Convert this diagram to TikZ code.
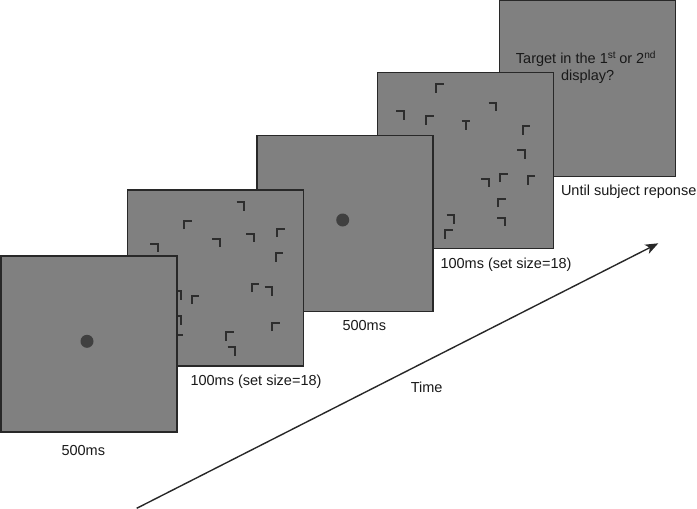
\documentclass[tikz,border=0pt]{standalone}
\usepackage{fontspec}
\setmainfont{Liberation Sans}
\usetikzlibrary{arrows.meta}
\definecolor{panelgray}{RGB}{128,128,128}
\definecolor{edgegray}{RGB}{40,40,40}
\definecolor{glyphgray}{RGB}{45,45,45}
\definecolor{dotgray}{RGB}{64,64,64}
\definecolor{txt}{RGB}{25,25,25}
\tikzset{
  panel/.style={draw=edgegray, fill=panelgray, line width=1.7pt, inner sep=0pt,
    minimum width=176pt, minimum height=176pt},
  glyph/.style={draw=glyphgray, line width=2pt, line cap=butt, line join=miter},
  fixdot/.style={circle, fill=dotgray, inner sep=0pt, minimum size=13pt},
  lbl/.style={text=txt, font=\fontsize{14.5}{17}\selectfont, inner sep=0pt, anchor=base},
  gL/.pic={\draw[glyph] (0,8.5) -- (0,0) -- (7.5,0);},
  gR/.pic={\draw[glyph] (0,0) -- (7.5,0) -- (7.5,8.5);},
  gT/.pic={\draw[glyph] (0,0) -- (8.5,0); \draw[glyph] (4.25,0) -- (4.25,8.5);}
}
\begin{document}
\begin{tikzpicture}[x=1pt,y=-1pt]
\useasboundingbox (0,0) rectangle (697,509);

% panel 5: response
\node[panel] (p5) at (587.5,88.5) {};
\node[lbl] (q1) at (586,63.8) {Target in the 1\textsuperscript{st}\kern-1pt{} or 2\textsuperscript{nd}};
\node[lbl] (q2) at (587.7,80.4) {display?};

% panel 4: second search display
\node[panel] (p4) at (465.5,160.5) {};
\pic at (436.3,84.3) {gL};
\pic at (488.7,102.7) {gR};
\pic at (396,111) {gR};
\pic at (426.3,116) {gL};
\pic at (461.7,121) {gT};
\pic at (522.7,126) {gL};
\pic at (517.3,150.3) {gR};
\pic at (481.3,178.7) {gR};
\pic at (500.3,173.7) {gL};
\pic at (527.7,176) {gL};
\pic at (498.3,198.7) {gL};
\pic at (446.7,215) {gR};
\pic at (497.3,217.7) {gR};
\pic at (445.3,230) {gL};

% panel 3: fixation
\node[panel] (p3) at (345,223.5) {};
\node[fixdot] (d3) at (342.7,220) {};

% panel 2: first search display
\node[panel] (p2) at (215.5,278) {};
\pic at (236.7,202) {gR};
\pic at (184.3,220.7) {gL};
\pic at (212,238.7) {gR};
\pic at (246,233.7) {gR};
\pic at (277,228.7) {gL};
\pic at (150.3,243.7) {gR};
\pic at (275.7,253.3) {gL};
\pic at (251.7,283.7) {gL};
\pic at (264.7,287.3) {gR};
\pic at (191.7,295.7) {gL};
\pic at (173,291.3) {gR};
\pic at (173,316.3) {gR};
\pic at (175.5,335) {gL};
\pic at (272.3,322.7) {gL};
\pic at (226.3,332.3) {gL};
\pic at (227.7,347.3) {gR};

% panel 1: fixation
\node[panel] (p1) at (89,344) {};
\node[fixdot] (d1) at (87,341.3) {};

% labels
\node[lbl] (l1) at (83.3,455.2) {500ms};
\node[lbl] (l2) at (256,385.2) {100ms (set size=18)};
\node[lbl] (l3) at (364.3,330.2) {500ms};
\node[lbl] (l4) at (506,268.5) {100ms (set size=18)};
\node[lbl] (l5) at (628.7,195.2) {Until subject reponse};

% time arrow
\coordinate (t0) at (136.7,508.3);
\coordinate (t1) at (658.3,243.3);
\draw[draw=edgegray, line width=1.4pt, -{Stealth[length=13pt,width=10pt,inset=3.5pt]}] (t0) -- (t1);
\node[lbl] (tl) at (426.7,392.5) {Time};
\end{tikzpicture}
\end{document}
